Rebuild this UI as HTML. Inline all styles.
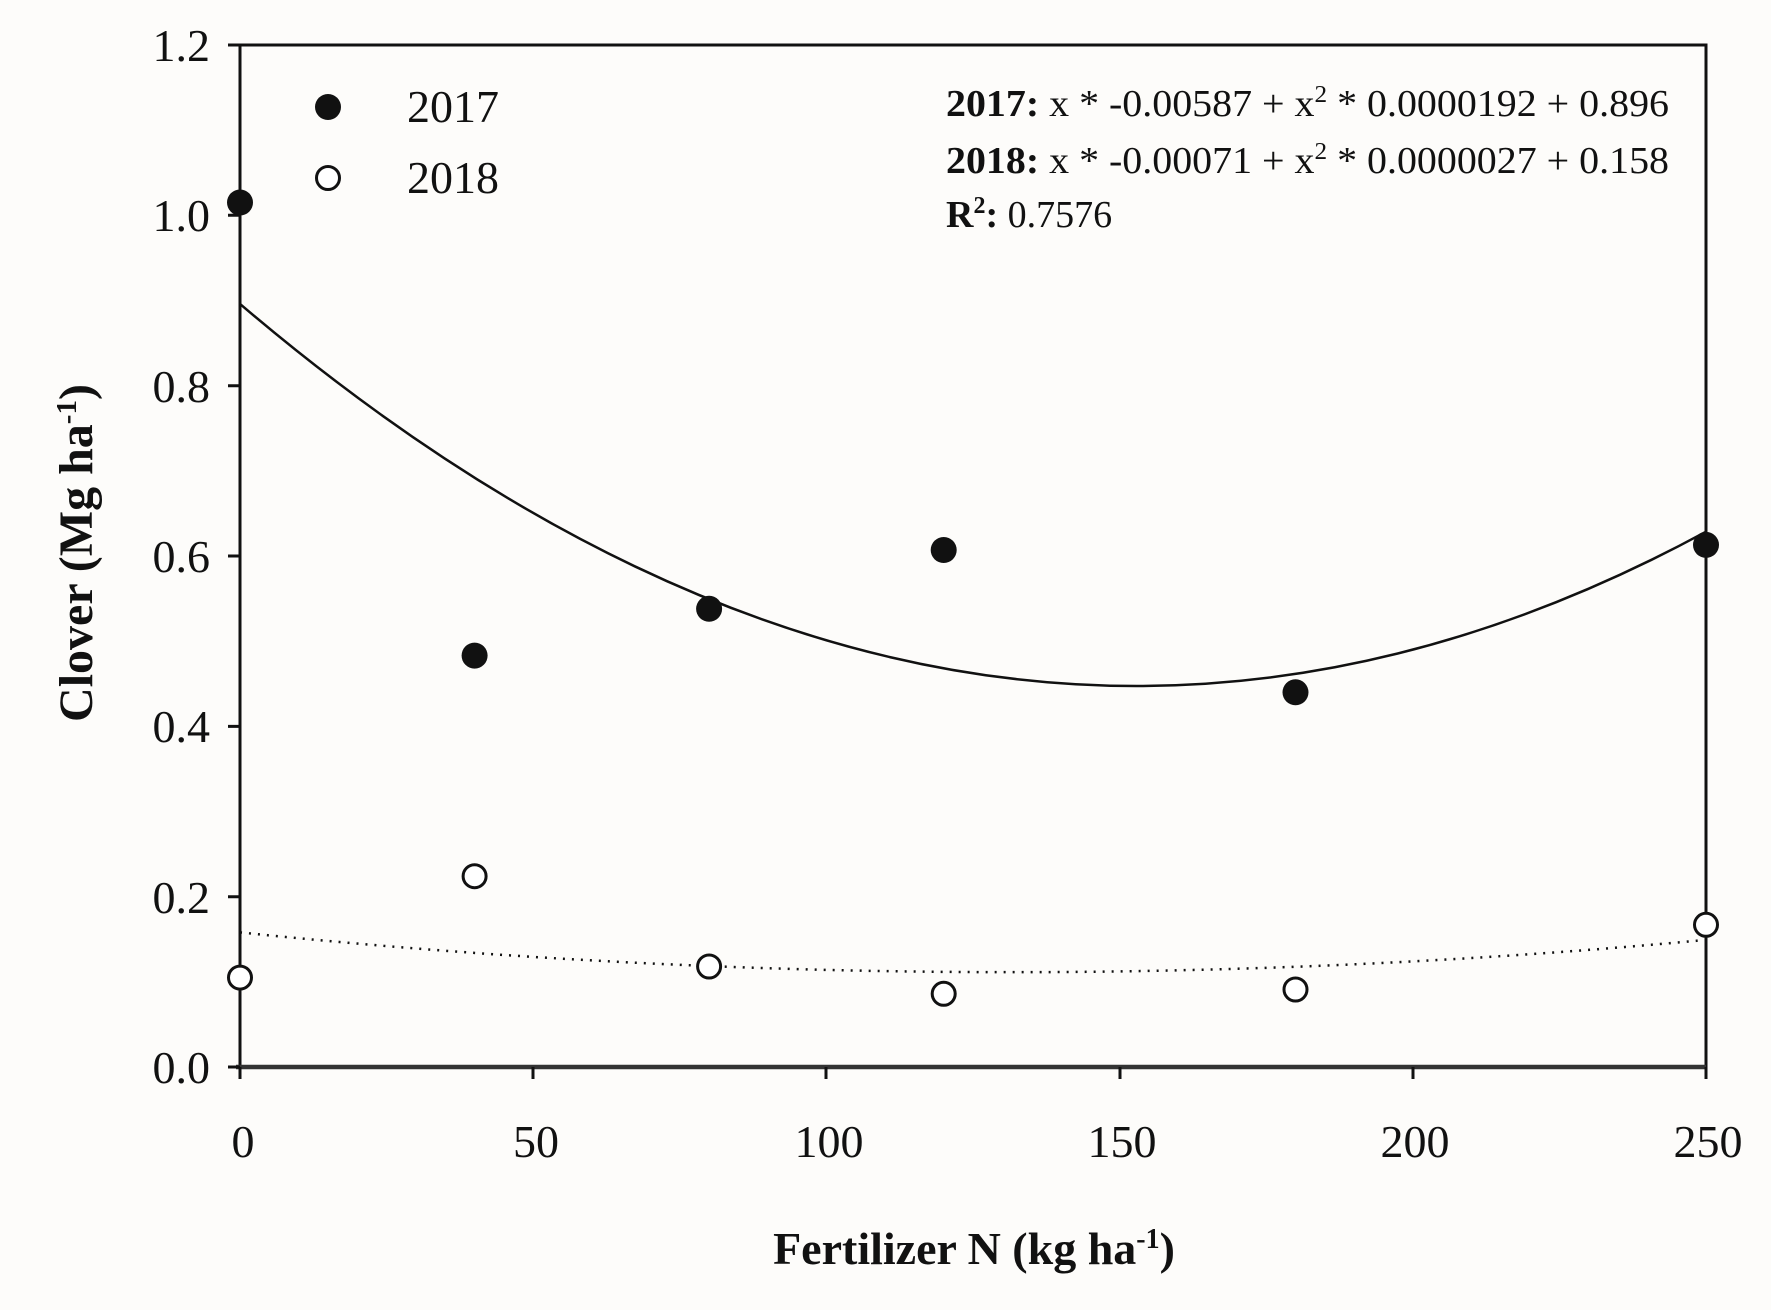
<!DOCTYPE html>
<html><head><style>body{margin:0;background:#fdfcfa}</style></head><body>
<svg width="1771" height="1305" xmlns="http://www.w3.org/2000/svg" font-family="Liberation Serif, serif">
<rect width="1771" height="1305" fill="#fdfcfa"/>
<g stroke="#111" stroke-width="3" fill="none">
<path d="M240,1067 V45 H1706 V1067"/>
<path d="M236,1067 H1706" stroke="#333" stroke-width="4.5"/>
<path d="M240,1067 V1079 M533,1067 V1079 M826,1067 V1079 M1120,1067 V1079 M1413,1067 V1079 M1706,1067 V1079"/>
<path d="M228,1067 H240 M228,896.7 H240 M228,726.4 H240 M228,556 H240 M228,385.7 H240 M228,215.3 H240 M228,45 H240"/>
<path d="M240,303.9 Q973,928.8 1706,531.7" stroke-width="2.5"/>
<path d="M240,932.4 Q973,1008 1706,939.9" stroke-width="2.5" stroke-dasharray="2,7"/>
</g>
<g font-size="46" fill="#111" text-anchor="end">
<text x="210" y="1083">0.0</text><text x="210" y="913">0.2</text><text x="210" y="742">0.4</text>
<text x="210" y="572">0.6</text><text x="210" y="402">0.8</text><text x="210" y="231">1.0</text><text x="210" y="61">1.2</text>
</g>
<g font-size="46" fill="#111" text-anchor="middle">
<text x="243" y="1157">0</text><text x="536" y="1157">50</text><text x="829" y="1157">100</text>
<text x="1122" y="1157">150</text><text x="1415" y="1157">200</text><text x="1708" y="1157">250</text>
</g>
<text x="974" y="1264" font-size="46" font-weight="bold" text-anchor="middle" fill="#111">Fertilizer N (kg ha<tspan dy="-16" font-size="28">-1</tspan><tspan dy="16">)</tspan></text>
<text transform="translate(92,553) rotate(-90)" font-size="48" font-weight="bold" text-anchor="middle" fill="#111">Clover (Mg ha<tspan dy="-16" font-size="29">-1</tspan><tspan dy="16">)</tspan></text>
<g fill="#111">
<circle cx="240" cy="202.5" r="13"/><circle cx="474.6" cy="655.6" r="13"/><circle cx="709.1" cy="608.8" r="13"/>
<circle cx="943.7" cy="550" r="13"/><circle cx="1295.5" cy="692.3" r="13"/><circle cx="1706" cy="544.9" r="13"/>
<circle cx="328" cy="107" r="13"/>
</g>
<g fill="#fff" stroke="#111" stroke-width="3">
<circle cx="240" cy="977.6" r="11.5"/><circle cx="474.6" cy="876.2" r="11.5"/><circle cx="709.1" cy="966.5" r="11.5"/>
<circle cx="943.7" cy="993.8" r="11.5"/><circle cx="1295.5" cy="989.5" r="11.5"/><circle cx="1706" cy="924.8" r="11.5"/>
<circle cx="328" cy="178" r="11.5"/>
</g>
<text x="407" y="122" font-size="46" fill="#111">2017</text>
<text x="407" y="193" font-size="46" fill="#111">2018</text>
<g font-size="38" fill="#111">
<text x="946" y="116" textLength="723" lengthAdjust="spacingAndGlyphs"><tspan font-weight="bold">2017:</tspan> x * -0.00587 + x<tspan dy="-14" font-size="24">2</tspan><tspan dy="14"> * 0.0000192 + 0.896</tspan></text>
<text x="946" y="173" textLength="723" lengthAdjust="spacingAndGlyphs"><tspan font-weight="bold">2018:</tspan> x * -0.00071 + x<tspan dy="-14" font-size="24">2</tspan><tspan dy="14"> * 0.0000027 + 0.158</tspan></text>
<text x="946" y="227"><tspan font-weight="bold">R</tspan><tspan dy="-14" font-size="24" font-weight="bold">2</tspan><tspan dy="14" font-weight="bold">:</tspan> 0.7576</text>
</g>
</svg>
</body></html>
